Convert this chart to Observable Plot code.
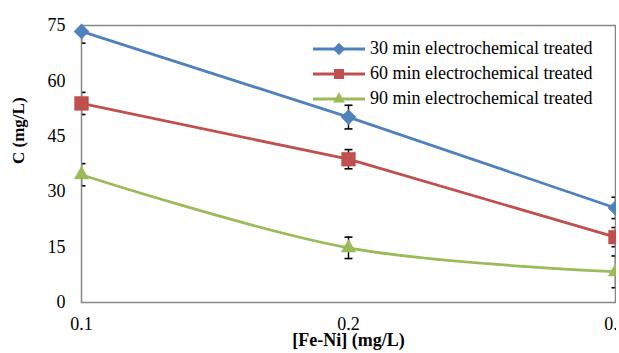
<!DOCTYPE html>
<html><head><meta charset="utf-8">
<script src="https://cdn.jsdelivr.net/npm/d3@7"></script>
<script src="https://cdn.jsdelivr.net/npm/@observablehq/plot@0.6"></script>
<style>
body{margin:0;background:#fff;}
#wrap{position:relative;width:619px;height:353px;overflow:hidden;background:#fff;}
#legend{position:absolute;left:312px;top:36px;font-family:'Liberation Serif','Times New Roman','DejaVu Serif',serif;font-size:18px;color:#000;}
.row{display:flex;align-items:center;height:25px;}
.row svg{margin-right:4px;}
svg text{font-family:'Liberation Serif','Times New Roman','DejaVu Serif',serif;}
</style></head><body><div id="wrap"><div id="legend"></div></div>
<script>
const doses = [0.1, 0.2, 0.3];
const seriesNames = ["30 min electrochemical treated", "60 min electrochemical treated", "90 min electrochemical treated"];
const c30 = [73.4, 50.2, 25.6];
const c60 = [53.9, 38.8, 17.7];
const c90 = [34.6, 14.8, 8.3];
const err30 = [3.2, 3.2, 2.9];
const err60 = [3.0, 2.6, 2.6];
const err90 = [3.0, 2.9, 4.3];
const yTicks = [0, 15, 30, 45, 60, 75];
const colors = ["#4F81BD", "#C0504D", "#9BBB59"];
const symbols = ["diamond2", "square", "triangle2"];
const radii = [6.8, 7.8, 6.9];
const curves = ["linear", "linear", "catmull-rom"];

const values = [c30, c60, c90];
const errs = [err30, err60, err90];
const data = [];
seriesNames.forEach((s, i) => doses.forEach((d, j) => data.push({series: s, si: i, x: d, y: values[i][j], e: errs[i][j]})));

const cap = {draw(ctx, size) { const w = Math.sqrt(size) / 2; ctx.moveTo(-w, 0); ctx.lineTo(w, 0); }};
const font = "Liberation Serif, Times New Roman, DejaVu Serif, serif";

const marks = [];
marks.push(Plot.ruleX(data, {x: "x", y1: d => d.y - d.e, y2: d => d.y + d.e, stroke: "#000", strokeWidth: 1.4, clip: true}));
marks.push(Plot.dot(data, {x: "x", y: d => d.y + d.e, symbol: cap, r: 4.5, stroke: "#000", strokeWidth: 1.6, clip: true}));
marks.push(Plot.dot(data, {x: "x", y: d => d.y - d.e, symbol: cap, r: 4.5, stroke: "#000", strokeWidth: 1.6, clip: true}));
marks.push(Plot.frame({stroke: "#878787", strokeWidth: 1.5}));
seriesNames.forEach((s, i) => {
  const d = data.filter(r => r.si === i);
  marks.push(Plot.line(d, {x: "x", y: "y", stroke: colors[i], strokeWidth: 2.8, curve: curves[i]}));
});
seriesNames.forEach((s, i) => {
  const d = data.filter(r => r.si === i);
  marks.push(Plot.dot(d, {x: "x", y: "y", symbol: () => symbols[i], r: radii[i], fill: colors[i], stroke: colors[i], strokeWidth: 0.5}));
});
marks.push(Plot.text(["C (mg/L)"], {frameAnchor: "left", dx: -63, rotate: -90, fontWeight: "bold", fontSize: 17}));
marks.push(Plot.text(["[Fe-Ni] (mg/L)"], {frameAnchor: "bottom", dy: 43, fontWeight: "bold", fontSize: 18}));

const chart = Plot.plot({
  width: 616, height: 353,
  marginLeft: 81, marginRight: 1, marginTop: 25, marginBottom: 51,
  style: {fontFamily: font, fontSize: "18px", color: "#000", background: "#fff", overflow: "hidden"},
  x: {domain: [0.1, 0.3], ticks: doses, tickFormat: d3.format(".1f"), tickSize: 0, tickPadding: 15, label: null},
  y: {domain: [0, 75], ticks: yTicks, tickSize: 0, tickPadding: 16, label: null},
  symbol: {type: "identity"},
  marks
});
document.getElementById("wrap").prepend(chart);

const legend = document.getElementById("legend");
seriesNames.forEach((s, i) => {
  const row = document.createElement("div");
  row.className = "row";
  const sv = d3.create("svg").attr("width", 54).attr("height", 20);
  sv.append("line").attr("x1", 1).attr("x2", 53).attr("y1", 10).attr("y2", 10).attr("stroke", colors[i]).attr("stroke-width", 2.8);
  sv.append("path").attr("transform", "translate(27,10)").attr("fill", colors[i])
    .attr("d", d3.symbol(i === 0 ? d3.symbolDiamond2 : i === 1 ? d3.symbolSquare : d3.symbolTriangle2, 100)());
  row.appendChild(sv.node());
  const t = document.createElement("span");
  t.textContent = s;
  row.appendChild(t);
  legend.appendChild(row);
});
</script></body></html>
